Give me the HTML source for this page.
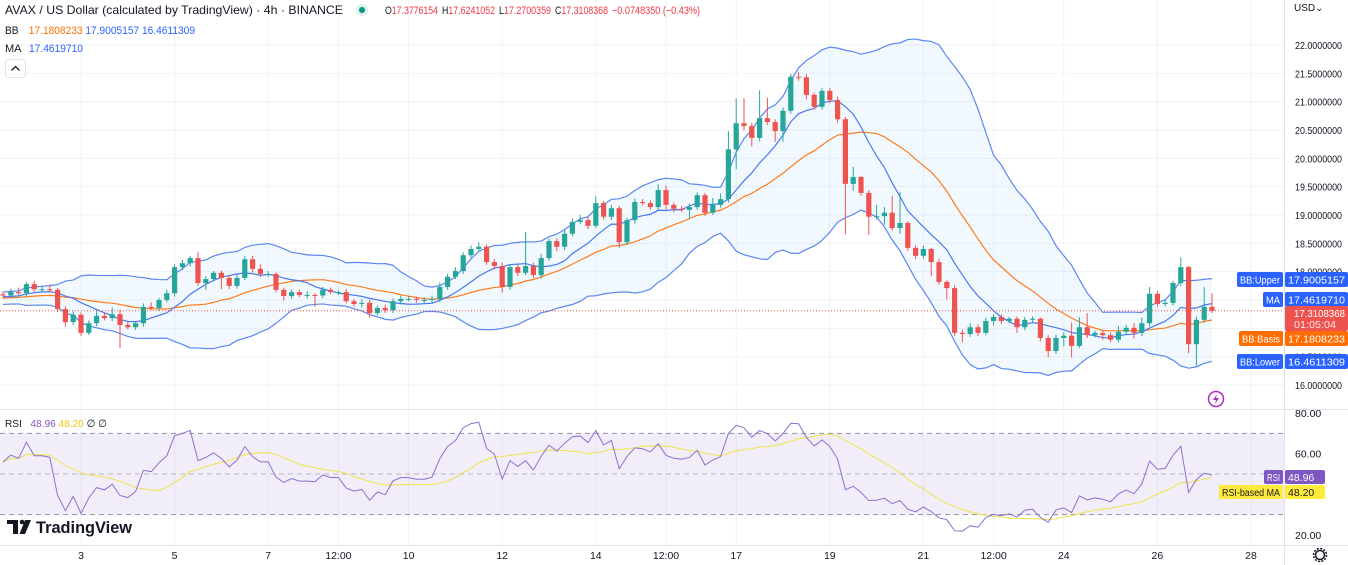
<!DOCTYPE html>
<html><head><meta charset="utf-8">
<style>
html,body{margin:0;padding:0;background:#fff;width:1348px;height:565px;overflow:hidden;font-family:"Liberation Sans",sans-serif;}
svg{display:block}
text{font-family:"Liberation Sans",sans-serif}
</style></head>
<body>
<svg id="c" width="1348" height="565" xmlns="http://www.w3.org/2000/svg">
<rect x="0" y="0" width="1348" height="565" fill="#ffffff"/>
<g id="grid"></g>
<g id="bb"></g>
<g id="candles"></g>
<g id="rsi"></g>
<g id="axes"></g>
<g font-size="12">
<text x="5" y="14" fill="#131722" textLength="338" lengthAdjust="spacingAndGlyphs">AVAX / US Dollar (calculated by TradingView) · 4h · BINANCE</text>
<circle cx="362" cy="10" r="6" fill="#d9f0ec"/>
<circle cx="362" cy="10" r="3" fill="#089981"/>
<g font-size="11">
<text x="385" y="14" fill="#131722" textLength="53" lengthAdjust="spacingAndGlyphs">O<tspan fill="#f23645">17.3776154</tspan></text>
<text x="442" y="14" fill="#131722" textLength="53" lengthAdjust="spacingAndGlyphs">H<tspan fill="#f23645">17.6241052</tspan></text>
<text x="499" y="14" fill="#131722" textLength="52" lengthAdjust="spacingAndGlyphs">L<tspan fill="#f23645">17.2700359</tspan></text>
<text x="555" y="14" fill="#131722" textLength="53" lengthAdjust="spacingAndGlyphs">C<tspan fill="#f23645">17.3108368</tspan></text>
<text x="612" y="14" fill="#f23645" textLength="88" lengthAdjust="spacingAndGlyphs">−0.0748350 (−0.43%)</text>
</g>
<text x="5" y="34" font-size="11" fill="#131722" textLength="190" lengthAdjust="spacingAndGlyphs">BB <tspan dx="8" fill="#ff6d00">17.1808233</tspan> <tspan fill="#2962ff">17.9005157</tspan> <tspan fill="#2962ff">16.4611309</tspan></text>
<g font-size="11">
<text x="5" y="52" fill="#131722">MA</text>
<text x="29" y="52" fill="#2962ff" textLength="54" lengthAdjust="spacingAndGlyphs">17.4619710</text>
</g>
<rect x="5.5" y="59.5" width="20" height="18" rx="3" fill="#fff" stroke="#e0e3eb"/>
<path d="M11.5 70.5 L15.5 66.5 L19.5 70.5" fill="none" stroke="#131722" stroke-width="1.3"/>
<text x="1294" y="11" font-size="10" fill="#131722">USD⌄</text>
</g>
<g>
<rect x="7" y="520" width="11" height="4" fill="#131722"/><rect x="13" y="520" width="5" height="14" fill="#131722"/>
<circle cx="22" cy="522" r="2.3" fill="#131722"/><path d="M25 520 L31 520 L25 534 L19.5 534 Z" fill="#131722"/>
<text x="36" y="533" font-size="17" font-weight="bold" fill="#131722" textLength="96" lengthAdjust="spacingAndGlyphs">TradingView</text>
</g>
<g>
<circle cx="1216" cy="399" r="7.5" fill="none" stroke="#b02cc9" stroke-width="1.5"/>
<path d="M1217 394 L1213 400 L1216 400 L1215 404 L1219 398 L1216 398 Z" fill="#b02cc9"/>
</g>
<g>
<circle cx="1320" cy="555" r="4.5" fill="none" stroke="#131722" stroke-width="1.5"/>
<circle cx="1320" cy="555" r="6.5" fill="none" stroke="#131722" stroke-width="1.5" stroke-dasharray="2 1.4"/>
</g>
</svg>
<script>
const closes=[17.58,17.64,17.62,17.78,17.69,17.69,17.68,17.34,17.11,17.24,16.92,17.09,17.22,17.18,17.25,17.06,17.02,17.09,17.38,17.36,17.50,17.62,18.08,18.15,18.24,17.80,17.87,17.98,17.89,17.75,17.89,18.22,18.05,17.96,17.96,17.68,17.57,17.64,17.59,17.59,17.58,17.68,17.64,17.64,17.48,17.43,17.45,17.27,17.36,17.32,17.48,17.52,17.52,17.50,17.50,17.52,
17.73,17.91,18.01,18.29,18.40,18.44,18.17,18.10,17.73,18.08,17.98,18.10,17.94,18.24,18.54,18.44,18.67,18.88,18.91,18.81,19.21,18.97,19.12,18.52,18.91,19.23,19.21,19.14,19.44,19.18,19.11,19.09,19.14,19.35,19.04,19.18,19.28,
20.16,20.62,20.57,20.36,20.71,20.64,20.48,20.84,21.44,21.43,21.12,20.91,21.19,21.03,20.69,19.55,19.67,19.39,18.97,18.98,19.04,18.77,18.86,18.42,18.28,18.40,18.17,17.82,17.71,
16.92,16.90,17.02,16.92,17.13,17.20,17.13,17.17,17.02,17.15,17.17,16.83,16.60,16.83,16.87,16.69,17.02,16.88,16.92,16.88,16.80,16.94,17.01,16.92,17.09,17.61,17.43,17.45,17.80,18.08,16.72,17.15,17.38,17.31];
const priorCloses=[17.45,17.50,17.55,17.48,17.52,17.60,17.55,17.50,17.42,17.48,17.55,17.60,17.52,17.47,17.50,17.58,17.62,17.55,17.60];
const wickHi=[0.05,0.06,0.08,0.04,0.06,0.05,0.08,0.03,0.05,0.06,0.04,0.05,0.10,0.06,0.12,0.08,0.05,0.03,0.06,0.08,0.04,0.06,0.05,0.06,0.04,0.11,0.05,0.03,0.04,0.05,0.06,0.06,0.06,0.08,0.05,0.03,0.04,0.05,0.04,0.06,0.03,0.05,0.04,0.03,0.06,0.04,0.07,0.05,0.04,0.06,0.05,0.06,0.05,0.04,0.05,0.06,
0.08,0.05,0.07,0.05,0.06,0.08,0.04,0.05,0.06,0.05,0.04,0.60,0.06,0.07,0.05,0.05,0.08,0.06,0.09,0.05,0.12,0.04,0.06,0.04,0.04,0.06,0.05,0.05,0.10,0.08,0.04,0.05,0.06,0.05,0.04,0.12,0.10,
0.32,0.44,0.44,0.06,0.49,0.36,0.05,0.06,0.05,0.08,0.06,0.04,0.05,0.05,0.06,0.04,0.18,0.02,0.05,0.20,0.10,0.30,0.55,0.03,0.05,0.06,0.02,0.06,0.03,
0.05,0.06,0.07,0.05,0.06,0.05,0.05,0.03,0.04,0.05,0.04,0.02,0.05,0.06,0.06,0.23,0.18,0.25,0.04,0.05,0.05,0.10,0.05,0.08,0.10,0.12,0.05,0.06,0.04,0.17,0.02,0.06,0.35,0.24];
const wickLo=[0.04,0.05,0.03,0.06,0.04,0.05,0.04,0.05,0.08,0.05,0.06,0.04,0.05,0.04,0.05,0.41,0.04,0.05,0.06,0.04,0.05,0.04,0.06,0.05,0.06,0.05,0.12,0.04,0.20,0.06,0.05,0.04,0.06,0.05,0.05,0.05,0.08,0.05,0.04,0.06,0.20,0.05,0.04,0.05,0.04,0.05,0.06,0.08,0.04,0.05,0.05,0.06,0.04,0.05,0.06,0.04,
0.06,0.05,0.04,0.05,0.06,0.04,0.05,0.06,0.10,0.05,0.06,0.04,0.05,0.06,0.05,0.08,0.06,0.05,0.04,0.06,0.04,0.05,0.06,0.10,0.05,0.06,0.04,0.05,0.05,0.08,0.06,0.04,0.15,0.05,0.06,0.04,0.05,
0.06,0.35,0.08,0.15,0.06,0.05,0.19,0.19,0.05,0.06,0.08,0.05,0.05,0.06,0.06,0.89,0.12,0.05,0.32,0.05,0.15,0.04,0.10,0.05,0.06,0.05,0.25,0.05,0.20,
0.05,0.15,0.05,0.06,0.04,0.08,0.06,0.04,0.10,0.05,0.05,0.06,0.11,0.05,0.15,0.20,0.04,0.05,0.04,0.08,0.05,0.05,0.06,0.10,0.06,0.06,0.05,0.04,0.05,0.05,0.16,0.38,0.05,0.04];
const priceTicks=[22,21.5,21,20.5,20,19.5,19,18.5,18,17.5,17,16.5,16];
const rsiTicks=[80,60,40,20];
const timeLabels=["3","5","7","12:00","10","12","14","12:00","17","19","21","12:00","24","26","28"];
const timeIdx=[10,22,34,43,52,64,76,85,94,106,118,127,136,148,160];

const NS="http://www.w3.org/2000/svg";
function mk(tag,attrs,parent){const e=document.createElementNS(NS,tag);for(const k in attrs)e.setAttribute(k,attrs[k]);parent.appendChild(e);return e;}
const X0=3, XSTEP=7.8, PW=1284;
const xAt=i=>X0+i*XSTEP;
const yP=v=>45+(22-v)*56.67;
const yR=v=>413+(80-v)*2.033;
const n=closes.length;
const all=priorCloses.concat(closes);
const P=priorCloses.length;

const grid=document.getElementById('grid');
priceTicks.forEach(t=>{const l=mk('line',{x1:0,x2:PW,y1:yP(t),y2:yP(t),stroke:'#f0f3fa'},grid);

});
timeIdx.forEach(i=>{const l=mk('line',{x1:xAt(i),x2:xAt(i),y1:0,y2:545,stroke:'#f0f3fa'},grid);

});

const up=[],lo=[],basis=[],ma=[];
for(let i=0;i<n;i++){const k=i+P;const w=all.slice(k-19,k+1);const m=w.reduce((a,b)=>a+b,0)/20;
const sd=Math.sqrt(w.reduce((a,b)=>a+(b-m)*(b-m),0)/20);basis.push(m);up.push(m+2*sd);lo.push(m-2*sd);
const w9=all.slice(k-8,k+1);ma.push(w9.reduce((a,b)=>a+b,0)/9);}
const bbg=document.getElementById('bb');
let fillD='M'+up.map((v,i)=>xAt(i)+' '+yP(v)).join(' L')+' L'+lo.map((v,i)=>xAt(i)+' '+yP(v)).reverse().join(' L')+' Z';
const bf=mk('path',{d:fillD,fill:'rgba(33,150,243,0.06)'},bbg);


function line(arr,yf,col,name,g,w){const p=mk('path',{d:'M'+arr.map((v,i)=>xAt(i)+' '+yf(v)).join(' L'),fill:'none',stroke:col,'stroke-width':w||1.2},g);

return p;}
line(up,yP,'#5b86f2','bb-upper',bbg);
line(lo,yP,'#5b86f2','bb-lower',bbg);
line(basis,yP,'#ff7b1c','bb-basis',bbg);
line(ma,yP,'#4a78f0','ma-line',bbg);

const cg=document.getElementById('candles');
for(let i=0;i<n;i++){const o=i===0?priorCloses[P-1]:closes[i-1];const c=closes[i];
const col=c>=o?'#26a69a':'#ef5350';const hi=Math.max(o,c)+wickHi[i],low=Math.min(o,c)-wickLo[i];
const g=mk('g',{},cg);


mk('line',{x1:xAt(i),x2:xAt(i),y1:yP(hi),y2:yP(low),stroke:col,'stroke-width':1},g);
const t=yP(Math.max(o,c)),b=yP(Math.min(o,c));
mk('rect',{x:xAt(i)-2.6,y:t,width:5.2,height:Math.max(1,b-t),fill:col},g);}
const pl=mk('line',{x1:0,x2:PW,y1:yP(closes[n-1]),y2:yP(closes[n-1]),stroke:'#ef5350','stroke-dasharray':'1 2'},cg);



const rsi=[];let ag=0,al=0;
for(let k=1;k<all.length;k++){const d=all[k]-all[k-1];const g=Math.max(d,0),l=Math.max(-d,0);
if(k<=14){ag+=g/14;al+=l/14;}else{ag=(ag*13+g)/14;al=(al*13+l)/14;}
if(k>=P)rsi.push(al===0?100:100-100/(1+ag/al));}
const rsiMa=rsi.map((v,i)=>{const w=rsi.slice(Math.max(0,i-13),i+1);return w.reduce((a,b)=>a+b,0)/w.length;});
const rg=document.getElementById('rsi');
const sep=mk('line',{x1:0,x2:1348,y1:409.5,y2:409.5,stroke:'#e0e3eb'},rg);


const band=mk('rect',{x:0,y:yR(70),width:PW,height:yR(30)-yR(70),fill:'rgba(126,87,194,0.1)'},rg);


[70,50,30].forEach(v=>{const l=mk('line',{x1:0,x2:PW,y1:yR(v),y2:yR(v),stroke:'#787b86','stroke-dasharray':'5 4','stroke-opacity':v===50?0.5:0.8},rg);

});
line(rsiMa,yR,'#f2e14a','rsi-ma-line',rg,1);
line(rsi,yR,'#8c6fd1','rsi-line',rg,1);
const rl=mk('text',{x:5,y:427,'font-size':10.5,fill:'#131722',textLength:102,lengthAdjust:'spacingAndGlyphs'},rg);rl.innerHTML='RSI <tspan dx="6" fill="#7e57c2">48.96</tspan> <tspan fill="#f0c808">48.20</tspan> ∅ ∅';



const ax=document.getElementById('axes');
mk('line',{x1:PW+0.5,x2:PW+0.5,y1:0,y2:565,stroke:'#e0e3eb'},ax);
mk('line',{x1:0,x2:1348,y1:545.5,y2:545.5,stroke:'#e0e3eb'},ax);
priceTicks.forEach(t=>{const e=mk('text',{x:1295,y:yP(t)+4,'font-size':10.5,fill:'#131722',textLength:47,lengthAdjust:'spacingAndGlyphs'},ax);e.textContent=t.toFixed(7);

});
rsiTicks.forEach(t=>{const e=mk('text',{x:1295,y:yR(t)+4,'font-size':10.5,fill:'#131722'},ax);e.textContent=t.toFixed(2);

});
timeLabels.forEach((s,j)=>{const e=mk('text',{x:xAt(timeIdx[j]),y:559,'font-size':10.5,fill:'#131722','text-anchor':'middle'},ax);e.textContent=s;

});

function tag(x,y,w,h,bg,txt,fg,name,fit){const g=mk('g',{},ax);


mk('rect',{x:x,y:y,width:w,height:h,fill:bg,rx:2},g);
if(txt){const a={x:x+3,y:y+h/2+4,'font-size':10.5,fill:fg};if(fit){a.textLength=w-6;a.lengthAdjust='spacingAndGlyphs';}
const t=mk('text',a,g);t.textContent=txt;}}
tag(1237,272,46,15,'#2962ff','BB:Upper','#fff','bb-upper-tag',true);
tag(1285,272,63,15,'#2962ff','17.9005157','#fff','bb-upper-value',true);
tag(1263,292,20,15,'#2962ff','MA','#fff','ma-tag',true);
tag(1285,292,63,15,'#2962ff','17.4619710','#fff','ma-value',true);
tag(1285,306,63,25,'#ef5350','','#fff','last-price-tag');
let t1=mk('text',{x:1294,y:317,'font-size':10.5,fill:'#fff',textLength:51,lengthAdjust:'spacingAndGlyphs'},ax);t1.textContent='17.3108368';
let t2=mk('text',{x:1294,y:328,'font-size':10.5,fill:'#fde8e8',textLength:42,lengthAdjust:'spacingAndGlyphs'},ax);t2.textContent='01:05:04';
tag(1239,331,44,15,'#ff6d00','BB:Basis','#fff','bb-basis-tag',true);
tag(1285,331,63,15,'#ff6d00','17.1808233','#fff','bb-basis-value',true);
tag(1237,354,46,15,'#2962ff','BB:Lower','#fff','bb-lower-tag',true);
tag(1285,354,63,15,'#2962ff','16.4611309','#fff','bb-lower-value',true);
tag(1264,470,19,14,'#7e57c2','RSI','#fff','rsi-tag',true);
tag(1285,470,40,14,'#7e57c2','48.96','#fff','rsi-value');
tag(1219,485,64,14,'#ffeb3b','RSI-based MA','#131722','rsi-ma-tag',true);
tag(1285,485,40,14,'#ffeb3b','48.20','#131722','rsi-ma-value');
</script>
</body></html>
